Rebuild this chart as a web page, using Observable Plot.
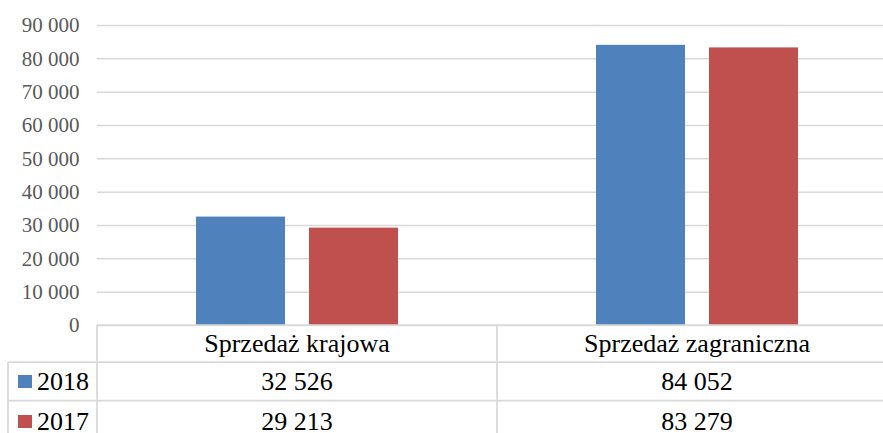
<!DOCTYPE html>
<html><head><meta charset="utf-8">
<script src="https://cdn.jsdelivr.net/npm/d3@7"></script>
<script src="https://cdn.jsdelivr.net/npm/@observablehq/plot@0.6"></script>
</head><body style="margin:0;padding:0;background:#fff;overflow:hidden"><div id="chart"></div>
<script>
const categories = ["Sprzedaż krajowa", "Sprzedaż zagraniczna"];
const years = ["2018", "2017"];
const values2018 = [32526, 84052];
const values2017 = [29213, 83279];
const valueLabels2018 = ["32 526", "84 052"];
const valueLabels2017 = ["29 213", "83 279"];
const yTicks = [0, 10000, 20000, 30000, 40000, 50000, 60000, 70000, 80000, 90000];
const yTickLabels = ["0", "10 000", "20 000", "30 000", "40 000", "50 000", "60 000", "70 000", "80 000", "90 000"];
const colors = ["#4F81BD", "#C0504D"];

const data = [];
categories.forEach((c, i) => {
  data.push({category: c, year: years[0], value: values2018[i]});
  data.push({category: c, year: years[1], value: values2017[i]});
});
const tickLabel = new Map(yTicks.map((t, i) => [t, yTickLabels[i]]));

const plot = Plot.plot({
  width: 883, height: 433,
  marginTop: 25, marginBottom: 108, marginLeft: 97, marginRight: -14,
  style: {background: "white", overflow: "hidden"},
  fx: {domain: categories, padding: 0, axis: null},
  x: {domain: years, paddingInner: 0.21, paddingOuter: 0.86, axis: null},
  y: {domain: [0, 90000]},
  color: {domain: years, range: colors},
  marks: [
    Plot.gridY(yTicks, {stroke: "#d9d9d9", strokeOpacity: 1, strokeWidth: 1.5}),
    Plot.axisY(yTicks, {tickSize: 0, tickPadding: 18, tickFormat: d => tickLabel.get(d), fill: "#595959", fontSize: 21, label: null}),
    Plot.barY(data, {fx: "category", x: "year", y: "value", fill: "year"})
  ]
});
document.getElementById("chart").appendChild(plot);

// data table (legend) below the plot area, aligned to the fx scale
const svg = d3.select(plot);
const fx = plot.scale("fx");
const y0 = plot.scale("y").apply(0);
const colX = categories.map(c => fx.apply(c));
const bw = fx.bandwidth;
const tableLeft = 8;
const right = colX[colX.length - 1] + bw;
const bottom = y0 + 120;
const rowLines = [y0 + 37, y0 + 75.5];
const g = svg.append("g").attr("stroke", "#d9d9d9").attr("stroke-width", 1.75);
g.append("line").attr("x1", colX[0]).attr("x2", right).attr("y1", y0).attr("y2", y0);
rowLines.forEach(yy => g.append("line").attr("x1", tableLeft).attr("x2", right).attr("y1", yy).attr("y2", yy));
g.append("line").attr("x1", tableLeft).attr("x2", tableLeft).attr("y1", rowLines[0]).attr("y2", bottom);
colX.concat([right]).forEach(xx => g.append("line").attr("x1", xx).attr("x2", xx).attr("y1", y0).attr("y2", bottom));

const t = svg.append("g").attr("font-size", 26).attr("fill", "black");
categories.forEach((c, i) => {
  t.append("text").attr("x", colX[i] + bw / 2).attr("y", y0 + 27).attr("text-anchor", "middle").text(c);
  t.append("text").attr("x", colX[i] + bw / 2).attr("y", y0 + 65).attr("text-anchor", "middle").text(valueLabels2018[i]);
  t.append("text").attr("x", colX[i] + bw / 2).attr("y", y0 + 105).attr("text-anchor", "middle").text(valueLabels2017[i]);
});
const color = plot.scale("color");
[[years[0], y0 + 65], [years[1], y0 + 105]].forEach(([yr, by]) => {
  svg.append("rect").attr("x", 18).attr("y", by - 15).attr("width", 14).attr("height", 13).attr("fill", color.apply(yr));
  t.append("text").attr("x", 37).attr("y", by).attr("text-anchor", "start").text(yr);
});
svg.selectAll("text").attr("style", "font-family:'Liberation Serif'");
</script>
</body></html>
